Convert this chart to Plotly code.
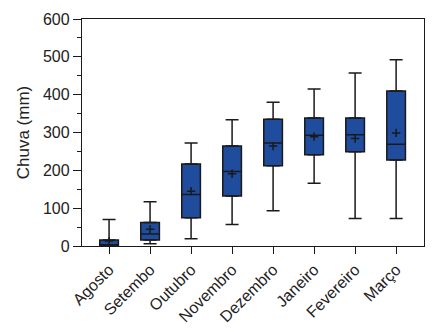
import plotly.graph_objects as go

# Monthly rainfall distribution (mm)
months = ["Agosto", "Setembo", "Outubro", "Novembro", "Dezembro", "Janeiro", "Fevereiro", "Março"]
q1 = [0, 16, 75, 132, 212, 241, 249, 227]
median = [3, 32, 136, 197, 272, 293, 294, 269]
q3 = [16, 62, 217, 264, 335, 338, 338, 410]
lower = [0, 6, 19, 57, 93, 166, 73, 73]
upper = [70, 117, 272, 334, 380, 415, 457, 492]
mean = [13, 44, 145, 191, 264, 289, 284, 299]

y_ticks = [0, 100, 200, 300, 400, 500, 600]

box_fill = "#1f4c9c"
ink = "#1a1a1a"

fig = go.Figure()

# Boxes (interquartile range + median)
fig.add_trace(go.Box(
    x=months, q1=q1, median=median, q3=q3,
    lowerfence=q1, upperfence=q3,
    fillcolor=box_fill,
    line=dict(color=ink, width=1.5),
    whiskerwidth=0,
    boxpoints=False,
    hoverinfo="skip",
    showlegend=False,
))

# Upper whiskers with caps
fig.add_trace(go.Scatter(
    x=months, y=q3, mode="markers",
    marker=dict(size=0.1, opacity=0),
    error_y=dict(type="data", symmetric=False,
                 array=[u - t for u, t in zip(upper, q3)],
                 arrayminus=[0] * len(q3),
                 color=ink, thickness=1.5, width=6.5),
    showlegend=False, hoverinfo="skip",
))

# Lower whiskers with caps
fig.add_trace(go.Scatter(
    x=months, y=q1, mode="markers",
    marker=dict(size=0.1, opacity=0),
    error_y=dict(type="data", symmetric=False,
                 array=[0] * len(q1),
                 arrayminus=[b - l for b, l in zip(q1, lower)],
                 color=ink, thickness=1.5, width=6.5),
    showlegend=False, hoverinfo="skip",
))

# Means
fig.add_trace(go.Scatter(
    x=months, y=mean, mode="markers",
    marker=dict(symbol="cross-thin", size=6, line=dict(color=ink, width=1.5)),
    showlegend=False, hoverinfo="skip",
))

fig.update_layout(
    width=438, height=332,
    margin=dict(l=82, r=14, t=19, b=86),
    paper_bgcolor="white", plot_bgcolor="white",
    font=dict(family="Liberation Sans, Arial, sans-serif", color="#222222"),
    boxgap=0.35,
)

fig.update_xaxes(
    type="category", range=[-0.66, 7.68],
    showline=True, linecolor=ink, linewidth=1.3, mirror=True,
    ticks="outside", ticklen=7, tickwidth=1.3, tickcolor=ink,
    tickangle=-45, tickfont=dict(size=16), automargin=False,
    showgrid=False, zeroline=False,
)

fig.update_yaxes(
    range=[0, 600], tickvals=y_ticks,
    showline=True, linecolor=ink, linewidth=1.3, mirror=True,
    ticks="outside", ticklen=8, tickwidth=1.3, tickcolor=ink,
    tickfont=dict(size=16), automargin=False,
    minor=dict(dtick=50, ticks="outside", ticklen=4, tickwidth=1.2, tickcolor=ink, showgrid=False),
    title=dict(text="Chuva (mm)", font=dict(size=17), standoff=8),
    showgrid=False, zeroline=False,
)

fig.write_html("out.html")
